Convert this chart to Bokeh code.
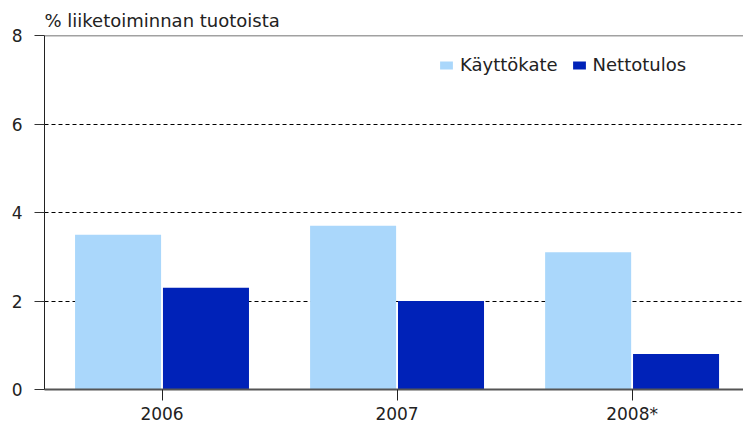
from bokeh.plotting import figure
from bokeh.models import Range1d, FixedTicker, Span, Legend, LegendItem, ColumnDataSource
from bokeh.transform import dodge
from bokeh.embed import file_html
from bokeh.resources import INLINE

years = ["2006", "2007", "2008*"]
kayttokate = [3.5, 3.7, 3.1]
nettotulos = [2.3, 2.0, 0.8]
y_ticks = [0, 2, 4, 6, 8]
title_text = "% liiketoiminnan tuotoista"
series_names = ["Käyttökate", "Nettotulos"]

FONT = "DejaVu Sans"
FS = "17px"
FS_BIG = "18px"
LIGHT = "#AAD7FB"
DARK = "#0022B8"

xs = list(range(len(years)))
src = ColumnDataSource(dict(x=xs, k=kayttokate, n=nettotulos))

p = figure(width=743, height=427, output_backend="svg", toolbar_location=None,
           x_range=Range1d(-0.5, 2.474), y_range=Range1d(0, 8),
           min_border_left=44, min_border_right=0, min_border_top=35, min_border_bottom=38)
p.outline_line_color = None
p.background_fill_color = "white"
p.border_fill_color = "white"

p.title.text = title_text
p.title.text_font = FONT
p.title.text_font_size = FS_BIG
p.title.text_font_style = "normal"
p.title.text_color = "#222222"
p.title.align = "left"
p.title.offset = 0
p.title.standoff = 9

r1 = p.vbar(x=dodge("x", -0.187), top="k", width=0.366, bottom=0, source=src,
            fill_color=LIGHT, line_color=None)
r2 = p.vbar(x=dodge("x", 0.187), top="n", width=0.366, bottom=0, source=src,
            fill_color=DARK, line_color=None)

# x axis
p.xaxis.ticker = FixedTicker(ticks=xs)
p.xaxis.major_label_overrides = {i: y for i, y in enumerate(years)}
p.xaxis.minor_tick_line_color = None
p.xaxis.major_tick_in = 0
p.xaxis.major_tick_out = 11
p.xaxis.major_tick_line_color = "#222222"
p.xaxis.axis_line_color = "#555555"
p.xaxis.axis_line_width = 2
p.xaxis.major_label_standoff = 3
p.xaxis.major_label_text_font = FONT
p.xaxis.major_label_text_font_size = FS
p.xaxis.major_label_text_color = "#222222"

# y axis
p.yaxis.ticker = FixedTicker(ticks=y_ticks)
p.yaxis.minor_tick_line_color = None
p.yaxis.major_tick_in = 0
p.yaxis.major_tick_out = 10
p.yaxis.major_tick_line_color = "#333333"
p.yaxis.axis_line_color = "#222222"
p.yaxis.major_label_standoff = 12
p.yaxis.major_label_text_font = FONT
p.yaxis.major_label_text_font_size = FS
p.yaxis.major_label_text_color = "#222222"

p.xgrid.grid_line_color = None
p.ygrid.ticker = FixedTicker(ticks=[2, 4, 6])
p.ygrid.grid_line_color = "black"
p.ygrid.grid_line_dash = "4 3"
p.ygrid.grid_line_width = 1

p.add_layout(Span(location=8, dimension="width", line_color="#444444", line_width=1.5))

legend = Legend(items=[LegendItem(label=series_names[0], renderers=[r1]),
                       LegendItem(label=series_names[1], renderers=[r2])],
                orientation="horizontal", location=(394, 314),
                padding=0, margin=0, spacing=13, label_standoff=6,
                glyph_width=16, glyph_height=10,
                border_line_color=None, background_fill_alpha=0,
                label_text_font=FONT, label_text_font_size=FS_BIG, label_text_color="#222222")
p.add_layout(legend)

open("out.html", "w").write(file_html(p, INLINE))
